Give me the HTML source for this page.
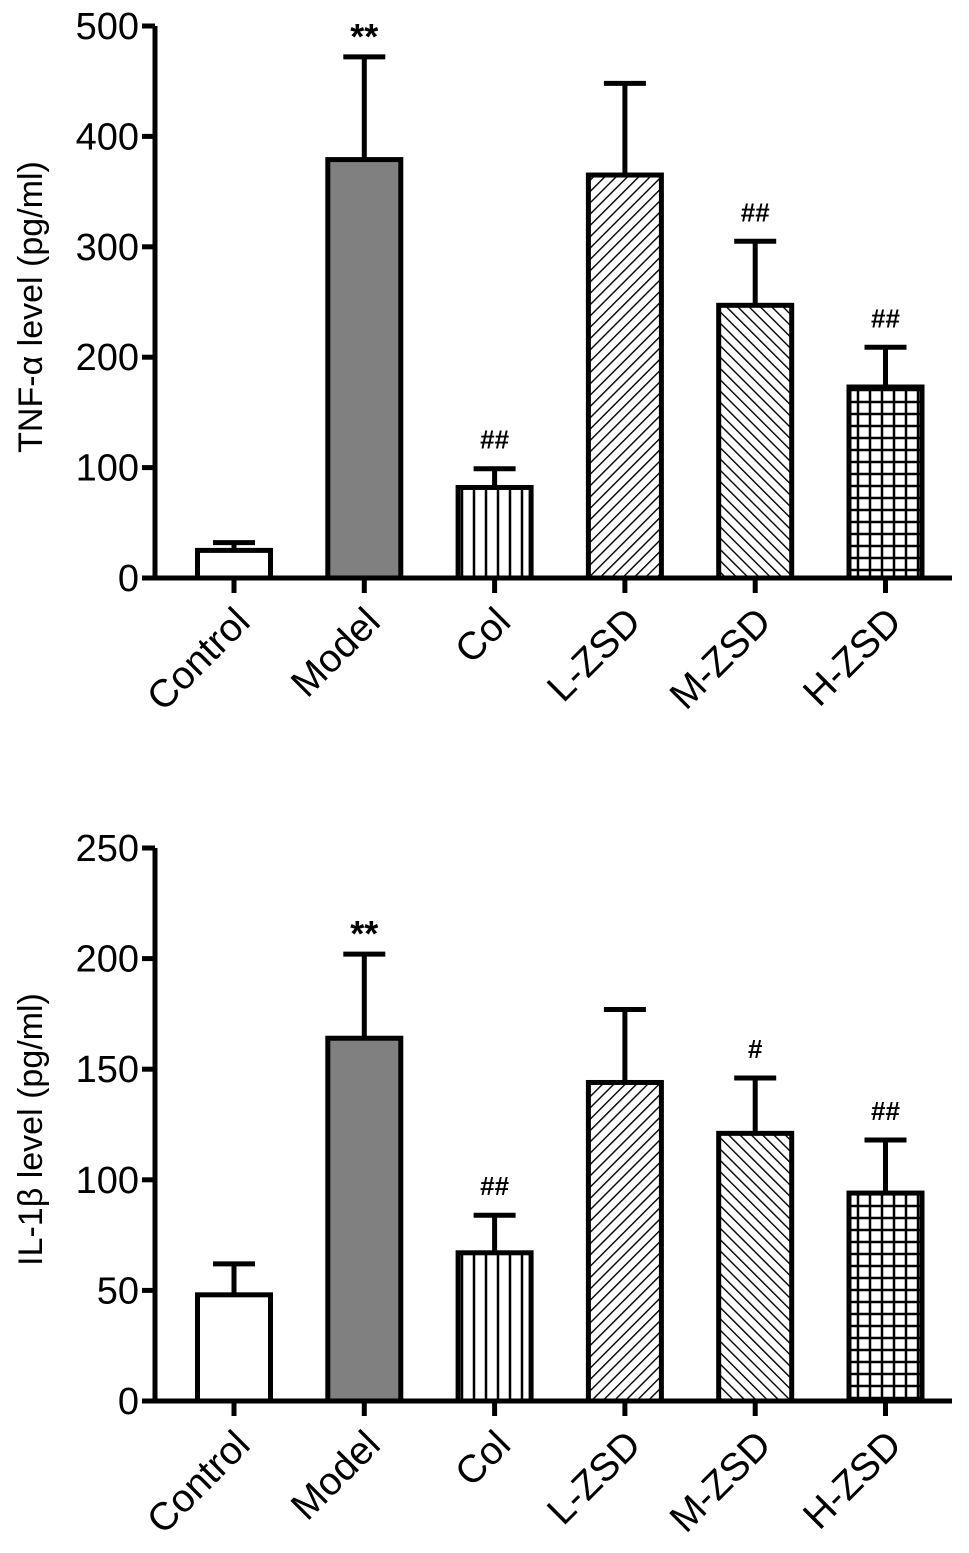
<!DOCTYPE html>
<html><head><meta charset="utf-8"><style>
html,body{margin:0;padding:0;background:#fff;}
svg{display:block;font-family:"Liberation Sans",Arial,sans-serif;}
</style></head><body>
<svg id="chart" width="969" height="1553" viewBox="0 0 969 1553" xmlns="http://www.w3.org/2000/svg">
<defs>
<pattern id="pVert" patternUnits="userSpaceOnUse" width="12" height="12"><line x1="6" y1="0" x2="6" y2="12" stroke="#000" stroke-width="2.5"/></pattern>
<pattern id="pFwd" patternUnits="userSpaceOnUse" width="8" height="8" patternTransform="rotate(45)"><line x1="0" y1="0" x2="0" y2="8" stroke="#000" stroke-width="2.8"/></pattern>
<pattern id="pBack" patternUnits="userSpaceOnUse" width="8" height="8" patternTransform="rotate(-45)"><line x1="0" y1="0" x2="0" y2="8" stroke="#000" stroke-width="2.8"/></pattern>
<pattern id="pGrid" patternUnits="userSpaceOnUse" width="12" height="12"><path d="M6 0V12M0 6H12" stroke="#000" stroke-width="2.5" fill="none"/></pattern>
</defs>
</svg>
<script>
const categories = ["Control","Model","Col","L-ZSD","M-ZSD","H-ZSD"];
const tnfValues = [25,379,82,365,247,173];
const tnfErrors = [7,93,17,83,58,36];
const tnfMarks = ["","**","##","","##","##"];
const tnfTicks = [0,100,200,300,400,500];
const ilValues = [48,164,67,144,121,94];
const ilErrors = [14,38,17,33,25,24];
const ilMarks = ["","**","##","","#","##"];
const ilTicks = [0,50,100,150,200,250];
const fills = ["#fff","#808080","url(#pVert)","url(#pFwd)","url(#pBack)","url(#pGrid)"];

const NS="http://www.w3.org/2000/svg";
const svg=document.getElementById('chart');
function mk(tag,attrs,parent){const e=document.createElementNS(NS,tag);for(const k in attrs)e.setAttribute(k,attrs[k]);(parent||svg).appendChild(e);return e;}

function drawPanel(prefix,title,values,errors,marks,ticks,y0,yTop){
  const g=mk('g',{});
  
  
  const maxV=ticks[ticks.length-1];
  const yS=v=>y0-(v/maxV)*(y0-yTop);
  const xC=i=>234+i*130.3;
  const bw=73;
  values.forEach((v,i)=>{
    const r=mk('rect',{x:xC(i)-bw/2,y:yS(v),width:bw,height:y0-yS(v),fill:fills[i],stroke:'#000','stroke-width':5},g);
    
    
    const ey=yS(v+errors[i]);
    const el=mk('path',{d:`M${xC(i)} ${yS(v)}V${ey}M${xC(i)-21} ${ey}H${xC(i)+21}`,stroke:'#000','stroke-width':5,fill:'none'},g);
    
    
    if(marks[i]){
      const star=marks[i][0]=='*';
      const t=mk('text',{x:xC(i),y:ey-(star?8:20),'font-size':star?36:26,'text-anchor':'middle','font-weight':'bold'},g);
      t.textContent=marks[i];
      
      
    }
    const tk=mk('line',{x1:xC(i),y1:y0,x2:xC(i),y2:y0+15,stroke:'#000','stroke-width':5},g);
    
    
    const lx=xC(i)+18, ly=y0+46;
    const lb=mk('text',{x:lx,y:ly,'font-size':39,'text-anchor':'end',transform:`rotate(-45 ${lx} ${ly})`},g);
    lb.textContent=categories[i];
    
    
  });
  const ax=mk('path',{d:`M155 ${yTop}V${y0}H952`,stroke:'#000','stroke-width':5,fill:'none'},g);
  
  
  ticks.forEach(t=>{
    const l=mk('line',{x1:142,y1:yS(t),x2:155,y2:yS(t),stroke:'#000','stroke-width':5},g);
    
    
    const tx=mk('text',{x:139,y:yS(t)+13,'font-size':38,'text-anchor':'end'},g);
    tx.textContent=t;
    
    
  });
  const cy=(y0+yTop)/2+5;
  const yt=mk('text',{x:42,y:cy,'font-size':34,'text-anchor':'middle',transform:`rotate(-90 42 ${cy})`},g);
  yt.textContent=title;
  
  
}
drawPanel('tnf','TNF-α level (pg/ml)',tnfValues,tnfErrors,tnfMarks,tnfTicks,578,26);
drawPanel('il1b','IL-1β level (pg/ml)',ilValues,ilErrors,ilMarks,ilTicks,1401,848);
</script>
</body></html>
